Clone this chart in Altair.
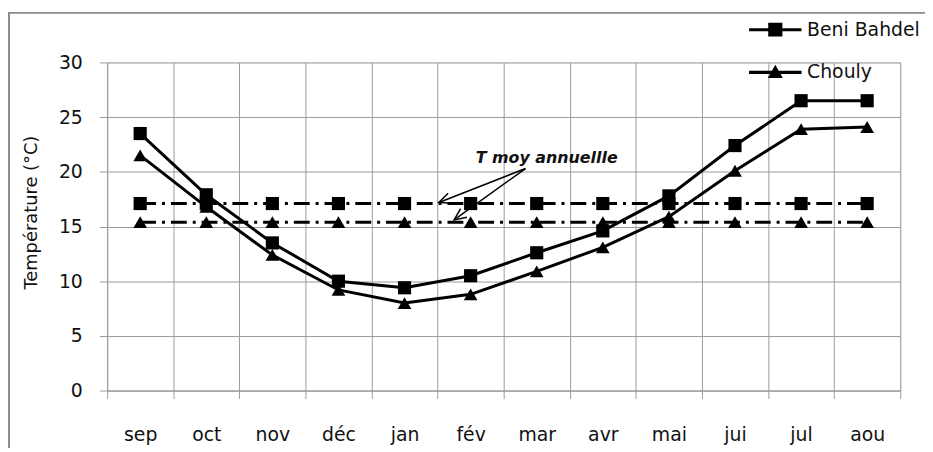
import altair as alt
import pandas as pd

# ---- data ----
months = ["sep", "oct", "nov", "déc", "jan", "fév", "mar", "avr", "mai", "jui", "jul", "aou"]
series = ["Beni Bahdel", "Chouly"]
beni_bahdel = [23.5, 17.9, 13.5, 10.0, 9.4, 10.5, 12.6, 14.6, 17.8, 22.4, 26.5, 26.5]
chouly = [21.5, 16.8, 12.4, 9.2, 8.0, 8.8, 10.9, 13.1, 15.9, 20.1, 23.9, 24.1]
annual_mean = [17.1, 15.4]          # T moy annuelle: Beni Bahdel, Chouly
y_ticks = [0, 5, 10, 15, 20, 25, 30]

annotation_text = "T moy annuellle"
annotation_pos = [6.15, 21.3]        # (month index, °C)
arrow_start = [5.83, 20.3]
arrow_end_x = [4.52, 4.75]
arrow_end_y = [17.2, 15.6]
arrow_angle = [249, 234]

FONT = "DejaVu Sans"
GRID = "#9a9a9a"

# ---- tables ----
rows = []
for i, m in enumerate(months):
    rows.append({"idx": i, "month": m, "series": series[0], "temp": beni_bahdel[i]})
    rows.append({"idx": i, "month": m, "series": series[1], "temp": chouly[i]})
df = pd.DataFrame(rows)

mrows = []
for s, mv in zip(series, annual_mean):
    for i, m in enumerate(months):
        mrows.append({"idx": i, "series": s, "temp": mv})
mdf = pd.DataFrame(mrows)

adf = pd.DataFrame({
    "x": [arrow_start[0]] * 2, "y": [arrow_start[1]] * 2,
    "x2": arrow_end_x, "y2": arrow_end_y, "angle": arrow_angle,
})
tdf = pd.DataFrame({"x": [annotation_pos[0]], "y": [annotation_pos[1]], "t": [annotation_text]})

# ---- scales / axes ----
bounds = [k - 0.5 for k in range(len(months) + 1)]   # category boundaries
x_scale = alt.Scale(domain=[-0.5, len(months) - 0.5], nice=False, zero=False)
y_scale = alt.Scale(domain=[0, 30], nice=False)

x_axis = alt.Axis(
    values=bounds, title=None, labels=False,
    gridColor=GRID, tickColor=GRID, domainColor=GRID, tickSize=8,
)
y_axis = alt.Axis(
    values=y_ticks, title="Température (°C)",
    gridColor=GRID, tickColor=GRID, domainColor=GRID, tickSize=8,
    labelFont=FONT, labelFontSize=19, labelColor="#111", labelPadding=17,
    titleFont=FONT, titleFontSize=18, titleFontWeight="normal", titleColor="#111",
    titleX=-76, titleY=151, titleAngle=-90, titleAlign="center", titleBaseline="middle",
)

X = alt.X("idx:Q", scale=x_scale, axis=x_axis)
Y = alt.Y("temp:Q", scale=y_scale, axis=y_axis)

SQ_SIZE = 176
TRI_SIZE = 190

# mean lines
mean_lines = alt.Chart(mdf).mark_line(color="black", strokeWidth=3, strokeDash=[16, 6, 3, 6]).encode(
    x=X, y=Y, detail="series:N")
mean_sq = alt.Chart(mdf).transform_filter(alt.datum.series == series[0]).mark_point(
    shape="square", filled=True, color="black", size=SQ_SIZE, opacity=1).encode(x=X, y=Y)
mean_tri = alt.Chart(mdf).transform_filter(alt.datum.series == series[1]).mark_point(
    shape="triangle-up", filled=True, color="black", size=TRI_SIZE, opacity=1).encode(x=X, y=Y)

# main series
lines = alt.Chart(df).mark_line(color="black", strokeWidth=3).encode(x=X, y=Y, detail="series:N")
sq = alt.Chart(df).transform_filter(alt.datum.series == series[0]).mark_point(
    shape="square", filled=True, color="black", size=SQ_SIZE, opacity=1).encode(x=X, y=Y)
tri = alt.Chart(df).transform_filter(alt.datum.series == series[1]).mark_point(
    shape="triangle-up", filled=True, color="black", size=TRI_SIZE, opacity=1).encode(x=X, y=Y)

# legend (custom line+marker symbols)
sq_path = "M-1.26,-0.075H1.26V0.075H-1.26Z M-0.34,-0.33H0.34V0.33H-0.34Z"
tri_path = "M-1.26,-0.075H1.26V0.075H-1.26Z M0,-0.36L0.36,0.27H-0.36Z"
legend_layer = alt.Chart(df).transform_filter("false").mark_point(
    filled=True, color="black", opacity=1).encode(
    x=X, y=Y,
    shape=alt.Shape("series:N", scale=alt.Scale(domain=series, range=[sq_path, tri_path]),
                    legend=alt.Legend(
                        title=None, orient="none", legendX=653, legendY=-54, padding=0,
                        rowPadding=12, symbolSize=1764, symbolStrokeWidth=0,
                        symbolFillColor="black", symbolOpacity=1, labelOffset=11,
                        labelFont=FONT, labelFontSize=19, labelColor="#111",
                    )),
)

# annotation
arrows = alt.Chart(adf).mark_rule(color="black", strokeWidth=1.5).encode(
    x=alt.X("x:Q", scale=x_scale), y=alt.Y("y:Q", scale=y_scale), x2="x2:Q", y2="y2:Q")
heads = alt.Chart(adf).mark_point(
    shape="M-0.45,1L0,0L0.45,1", filled=False, color="black", size=576, strokeWidth=1.5, opacity=1
).encode(x=alt.X("x2:Q", scale=x_scale), y=alt.Y("y2:Q", scale=y_scale),
         angle=alt.Angle("angle:Q", scale=None))
label = alt.Chart(tdf).mark_text(
    font=FONT, fontSize=16, fontWeight="bold", fontStyle="italic", color="#111"
).encode(x=alt.X("x:Q", scale=x_scale), y=alt.Y("y:Q", scale=y_scale), text="t:N")

# outer frame of the chart
frame = alt.Chart(pd.DataFrame({"a": [0]})).mark_rect(
    fillOpacity=0, stroke="#8c8c8c", strokeWidth=2).encode(
    x=alt.value(-99), x2=alt.value(840), y=alt.value(-50), y2=alt.value(420))

# month labels: a band axis over the same 800px, one band per month
month_axis_layer = alt.Chart(df).mark_point(opacity=0).encode(
    x=alt.X("month:O", sort=months,
            scale=alt.Scale(domain=months, paddingInner=0, paddingOuter=0),
            axis=alt.Axis(orient="bottom", title=None, ticks=False, domain=False, grid=False,
                          labelAngle=0, labelFont=FONT, labelFontSize=19, labelColor="#111",
                          labelPadding=35)),
    y=Y,
)

main = alt.layer(
    frame, mean_lines, mean_sq, mean_tri, lines, sq, tri, arrows, heads, label, legend_layer
)

chart = alt.layer(main, month_axis_layer).resolve_scale(x="independent").resolve_axis(
    x="independent"
).properties(
    width=800, height=331,
    autosize=alt.AutoSizeParams(type="none"),
    padding={"left": 100, "top": 53, "right": 25, "bottom": 56},
).configure_view(stroke=None).configure(background="white")

chart.save("out.html", embed_options={"renderer": "svg", "actions": False})
